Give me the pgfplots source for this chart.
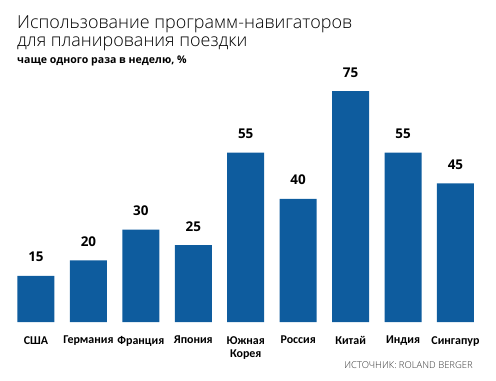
\documentclass[border=0pt]{standalone}
\usepackage{fontspec}
\setmainfont{Open Sans}
\newfontfamily\lightfont{Open Sans Light}
\newfontfamily\labfont{Carlito}
\usepackage{pgfplots}
\pgfplotsset{compat=1.18}
\definecolor{barblue}{RGB}{14,92,158}
\begin{document}
\begin{tikzpicture}[x=1bp,y=1bp]
\useasboundingbox (0,0) rectangle (496,380);
\node[anchor=base west, inner sep=0, font=\lightfont\fontsize{18}{18}\selectfont] at (17,351.7) {Использование программ-навигаторов};
\node[anchor=base west, inner sep=0, font=\lightfont\fontsize{18}{18}\selectfont] at (17,333.3) {для планирования поездки};
\node[anchor=base west, inner sep=0, font=\bfseries\fontsize{10.6}{11}\selectfont] at (17,317) {чаще одного раза в неделю, \%};
\node[anchor=base east, inner sep=0, font=\lightfont\fontsize{9.5}{9.5}\selectfont, text=black!80] at (473,12) {ИСТОЧНИК: ROLAND BERGER};
\begin{axis}[
  at={(9.78bp,58bp)}, anchor=south west,
  scale only axis, width=471.9bp, height=231bp,
  xmin=-0.5, xmax=8.5, ymin=0, ymax=75,
  axis x line*=bottom, axis y line=none,
  x axis line style={draw=none},
  major tick length=0pt,
  /pgf/number format/assume math mode=true,
  xtick={0,...,8},
  xticklabels={США, Германия, Франция, Япония, {Южная\\Корея}, Россия, Китай, Индия, Сингапур},
  xticklabel style={align=center, anchor=north, inner sep=0pt, yshift=-14bp, font=\labfont\bfseries\fontsize{12}{14}\selectfont},
  ybar, bar width=37bp,
  clip=false,
  nodes near coords,
  every node near coord/.append style={anchor=base, inner sep=0pt, yshift=14bp, font=\bfseries\fontsize{13.5}{14}\selectfont, text=black},
]
\addplot[fill=barblue, draw=none] coordinates {(0,15) (1,20) (2,30) (3,25) (4,55) (5,40) (6,75) (7,55) (8,45)};
\end{axis}
\end{tikzpicture}
\end{document}
